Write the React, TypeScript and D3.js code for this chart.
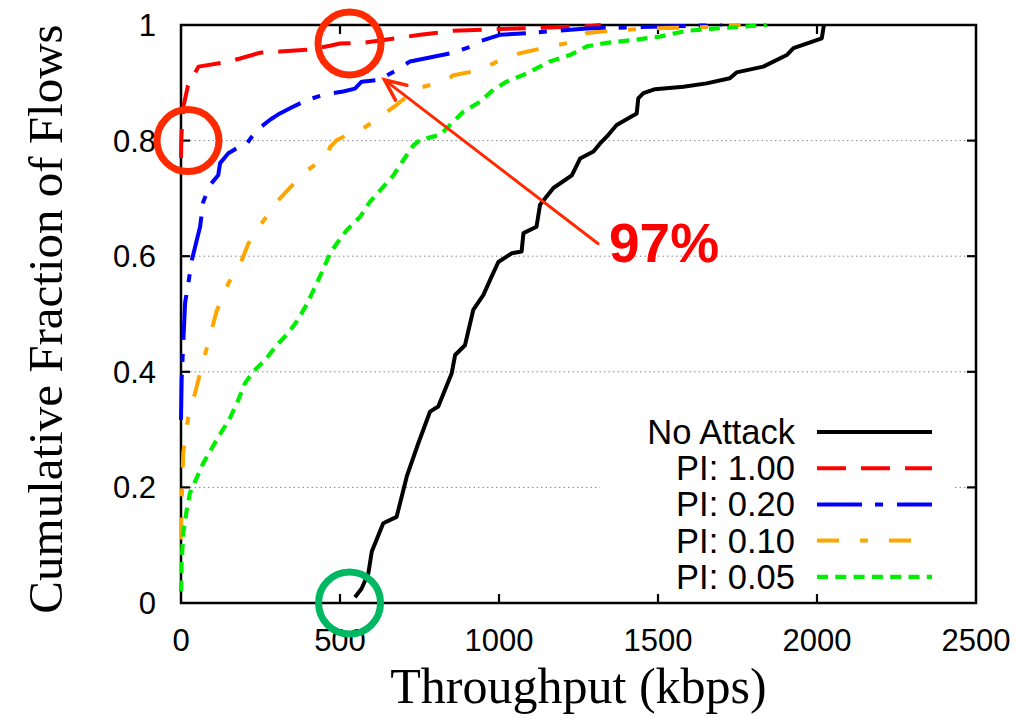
import React from "react";
import * as d3 from "d3";

// ---------- data (throughput kbps, cumulative fraction) ----------
const xTicks = [0, 500, 1000, 1500, 2000, 2500];
const yTicks = [0, 0.2, 0.4, 0.6, 0.8, 1];
const gridTicks = [0.2, 0.4, 0.6, 0.8];

const noAttackX = [547, 568, 589, 600, 636, 678, 710, 746, 783, 809, 851, 862, 893, 919, 951, 977, 998, 1040, 1071, 1077, 1118, 1129, 1171, 1229, 1255, 1297, 1318, 1344, 1370, 1433, 1438, 1454, 1491, 1580, 1653, 1726, 1747, 1831, 1905, 1926, 2015, 2020, 2022];
const noAttackY = [0.010, 0.025, 0.051, 0.089, 0.138, 0.149, 0.219, 0.276, 0.331, 0.340, 0.397, 0.429, 0.446, 0.507, 0.533, 0.565, 0.590, 0.605, 0.608, 0.640, 0.651, 0.689, 0.718, 0.740, 0.769, 0.781, 0.795, 0.810, 0.827, 0.847, 0.873, 0.882, 0.889, 0.893, 0.899, 0.908, 0.918, 0.928, 0.948, 0.960, 0.977, 0.994, 1.0];

const pi100X = [0, 1, 3, 8, 14, 22, 55, 133, 186, 248, 311, 395, 469, 500, 573, 636, 752, 856, 1003, 1276, 1320];
const pi100Y = [0.77, 0.80, 0.83, 0.86, 0.875, 0.895, 0.928, 0.935, 0.942, 0.952, 0.954, 0.957, 0.964, 0.968, 0.969, 0.974, 0.983, 0.990, 0.993, 0.998, 1.0];

const pi020X = [0, 2, 7, 13, 23, 34, 60, 70, 91, 117, 123, 149, 191, 207, 238, 280, 311, 343, 395, 447, 510, 547, 568, 621, 678, 720, 794, 846, 909, 940, 1003, 1087, 1160, 1276, 1422, 1700];
const pi020Y = [0.317, 0.386, 0.449, 0.52, 0.553, 0.593, 0.651, 0.694, 0.723, 0.740, 0.761, 0.778, 0.792, 0.795, 0.818, 0.836, 0.847, 0.856, 0.870, 0.879, 0.885, 0.890, 0.902, 0.905, 0.922, 0.937, 0.945, 0.951, 0.962, 0.972, 0.983, 0.986, 0.989, 0.994, 0.996, 1.0];

const pi010X = [0, 1, 7, 23, 44, 60, 81, 112, 149, 191, 212, 254, 301, 337, 390, 458, 469, 490, 553, 573, 626, 678, 741, 825, 857, 940, 1013, 1066, 1139, 1234, 1276, 1370, 1485, 1684, 1760];
const pi010Y = [0.11, 0.15, 0.26, 0.322, 0.363, 0.397, 0.441, 0.505, 0.553, 0.593, 0.622, 0.657, 0.694, 0.715, 0.746, 0.772, 0.789, 0.801, 0.818, 0.821, 0.841, 0.862, 0.890, 0.902, 0.913, 0.922, 0.942, 0.951, 0.960, 0.971, 0.986, 0.991, 0.994, 0.997, 1.0];

const pi005X = [0, 1, 2, 7, 18, 28, 70, 112, 154, 180, 201, 227, 264, 301, 337, 364, 395, 437, 469, 490, 521, 563, 594, 636, 668, 699, 731, 752, 815, 846, 888, 940, 982, 1024, 1087, 1160, 1223, 1276, 1339, 1422, 1506, 1590, 1684, 1842];
const pi005Y = [0.02, 0.035, 0.069, 0.121, 0.161, 0.190, 0.242, 0.282, 0.320, 0.351, 0.380, 0.400, 0.420, 0.446, 0.467, 0.487, 0.516, 0.565, 0.605, 0.622, 0.645, 0.668, 0.694, 0.720, 0.740, 0.766, 0.792, 0.801, 0.810, 0.827, 0.850, 0.867, 0.888, 0.902, 0.916, 0.937, 0.948, 0.963, 0.969, 0.974, 0.980, 0.990, 0.994, 1.0];

const seriesNames = ["No Attack", "PI: 1.00", "PI: 0.20", "PI: 0.10", "PI: 0.05"];
const seriesXs = [noAttackX, pi100X, pi020X, pi010X, pi005X];
const seriesYs = [noAttackY, pi100Y, pi020Y, pi010Y, pi005Y];

// annotation anchors in data units
const highlightTop = { x: 530, y: 0.968 };
const highlightLeft = { x: 22, y: 0.80 };
const highlightBottom = { x: 530, y: 0 };
const arrowTip = { x: 640, y: 0.905 };
const arrowTail = { x: 1311, y: 0.622 };
const annotationLabel = "97%";

// ---------- styles ----------
const seriesColors = ["#000000", "#ff0000", "#0000ff", "#ffa500", "#00ee00"];
const seriesDash = ["", "29,15", "45,13,8,14", "22,21,8,21", "11,7.3"];
const seriesWidth = [4, 4, 4, 4, 4.2];

const W = 1023;
const H = 721;
const M = { left: 181, right: 976, top: 25, bottom: 603 };

export default function App() {
  const x = d3.scaleLinear().domain([0, 2500]).range([M.left, M.right]);
  const y = d3.scaleLinear().domain([0, 1]).range([M.bottom, M.top]);
  const line = d3
    .line<[number, number]>()
    .x((d) => x(d[0]))
    .y((d) => y(d[1]));

  const sans = "'Liberation Sans', Arial, sans-serif";
  const serif = "'Liberation Serif', 'Times New Roman', serif";
  const tickLen = 9;
  const legendTextX = 795;
  const legendLine = [817, 932];
  const legendY0 = 432;
  const legendStep = 36.2;
  const annRed = "#ff2a00";

  return (
    <svg
      width={W}
      height={H}
      viewBox={`0 0 ${W} ${H}`}
      style={{ position: "absolute", left: 0, top: 0, background: "#fff" }}
    >
      <rect x={0} y={0} width={W} height={H} fill="#fff" />
      {/* grid */}
      {gridTicks.map((t) => (
        <line
          key={"g" + t}
          x1={M.left}
          x2={M.right}
          y1={y(t)}
          y2={y(t)}
          stroke="#888"
          strokeWidth={1}
          strokeDasharray="1.5,3"
        />
      ))}
      {/* legend background */}
      <rect x={600} y={412} width={353} height={186} fill="#fff" />

      {/* frame */}
      <rect
        x={M.left}
        y={M.top}
        width={M.right - M.left}
        height={M.bottom - M.top}
        fill="none"
        stroke="#000"
        strokeWidth={2.5}
      />
      {xTicks.map((t) => (
        <g key={"xt" + t}>
          {t > 0 && t < 2500 && (
            <>
              <line x1={x(t)} x2={x(t)} y1={M.bottom} y2={M.bottom - tickLen} stroke="#000" strokeWidth={2.2} />
              <line x1={x(t)} x2={x(t)} y1={M.top} y2={M.top + tickLen} stroke="#000" strokeWidth={2.2} />
            </>
          )}
          <text
            x={x(t)}
            y={651}
            textAnchor="middle"
            fontFamily={sans}
            fontSize={31}
            fill="#000"
          >
            {t}
          </text>
        </g>
      ))}
      {yTicks.map((t) => (
        <g key={"yt" + t}>
          {t > 0 && t < 1 && (
            <>
              <line x1={M.left} x2={M.left + tickLen} y1={y(t)} y2={y(t)} stroke="#000" strokeWidth={2.2} />
              <line x1={M.right} x2={M.right - tickLen} y1={y(t)} y2={y(t)} stroke="#000" strokeWidth={2.2} />
            </>
          )}
          <text
            x={156}
            y={y(t) + 11}
            textAnchor="end"
            fontFamily={sans}
            fontSize={31}
            fill="#000"
          >
            {t === 0 || t === 1 ? String(t) : t.toFixed(1)}
          </text>
        </g>
      ))}

      {/* axis labels */}
      <text
        x={(M.left + M.right) / 2}
        y={703}
        textAnchor="middle"
        fontFamily={serif}
        fontSize={50}
        fill="#000"
      >
        Throughput (kbps)
      </text>
      <text
        transform={`translate(62, ${(M.top + M.bottom) / 2 + 5}) rotate(-90)`}
        textAnchor="middle"
        fontFamily={serif}
        fontSize={49}
        fill="#000"
      >
        Cumulative Fraction of Flows
      </text>

      {/* curves */}
      {seriesXs.map((xs, i) => {
        const pts = xs.map((v, j) => [v, seriesYs[i][j]] as [number, number]);
        return (
          <path
            key={"s" + i}
            d={line(pts) || ""}
            fill="none"
            stroke={seriesColors[i]}
            strokeWidth={seriesWidth[i]}
            strokeDasharray={seriesDash[i] || undefined}
            strokeLinejoin="round"
          />
        );
      })}

      {/* legend */}
      {seriesNames.map((name, i) => {
        const ly = legendY0 + i * legendStep;
        return (
          <g key={"l" + i}>
            <text
              x={legendTextX}
              y={ly + 12}
              textAnchor="end"
              fontFamily={sans}
              fontSize={34.5}
              fill="#000"
            >
              {name}
            </text>
            <line
              x1={legendLine[0]}
              x2={legendLine[1]}
              y1={ly}
              y2={ly}
              stroke={seriesColors[i]}
              strokeWidth={seriesWidth[i]}
              strokeDasharray={seriesDash[i] || undefined}
            />
          </g>
        );
      })}

      {/* annotations */}
      <circle cx={x(highlightTop.x)} cy={y(highlightTop.y)} r={31.5} fill="none" stroke={annRed} strokeWidth={7} />
      <circle cx={x(highlightLeft.x)} cy={y(highlightLeft.y)} r={31} fill="none" stroke={annRed} strokeWidth={7} />
      <circle cx={x(highlightBottom.x)} cy={y(highlightBottom.y)} r={31} fill="none" stroke="#00b862" strokeWidth={7} />
      {(() => {
        const tx = x(arrowTip.x);
        const ty = y(arrowTip.y);
        const sx = x(arrowTail.x);
        const sy = y(arrowTail.y);
        const ang = Math.atan2(sy - ty, sx - tx);
        const hl = 23;
        const spread = 0.42;
        const a1 = [tx + hl * Math.cos(ang - spread), ty + hl * Math.sin(ang - spread)];
        const a2 = [tx + hl * Math.cos(ang + spread), ty + hl * Math.sin(ang + spread)];
        return (
          <g stroke={annRed} strokeWidth={3} fill="none" strokeLinecap="round">
            <line x1={sx} y1={sy} x2={tx} y2={ty} />
            <polyline points={`${a1[0]},${a1[1]} ${tx},${ty} ${a2[0]},${a2[1]}`} strokeWidth={3.5} />
          </g>
        );
      })()}
      <text x={609} y={262} fontFamily={sans} fontWeight="bold" fontSize={55} fill="#ff0000">
        {annotationLabel}
      </text>
    </svg>
  );
}
